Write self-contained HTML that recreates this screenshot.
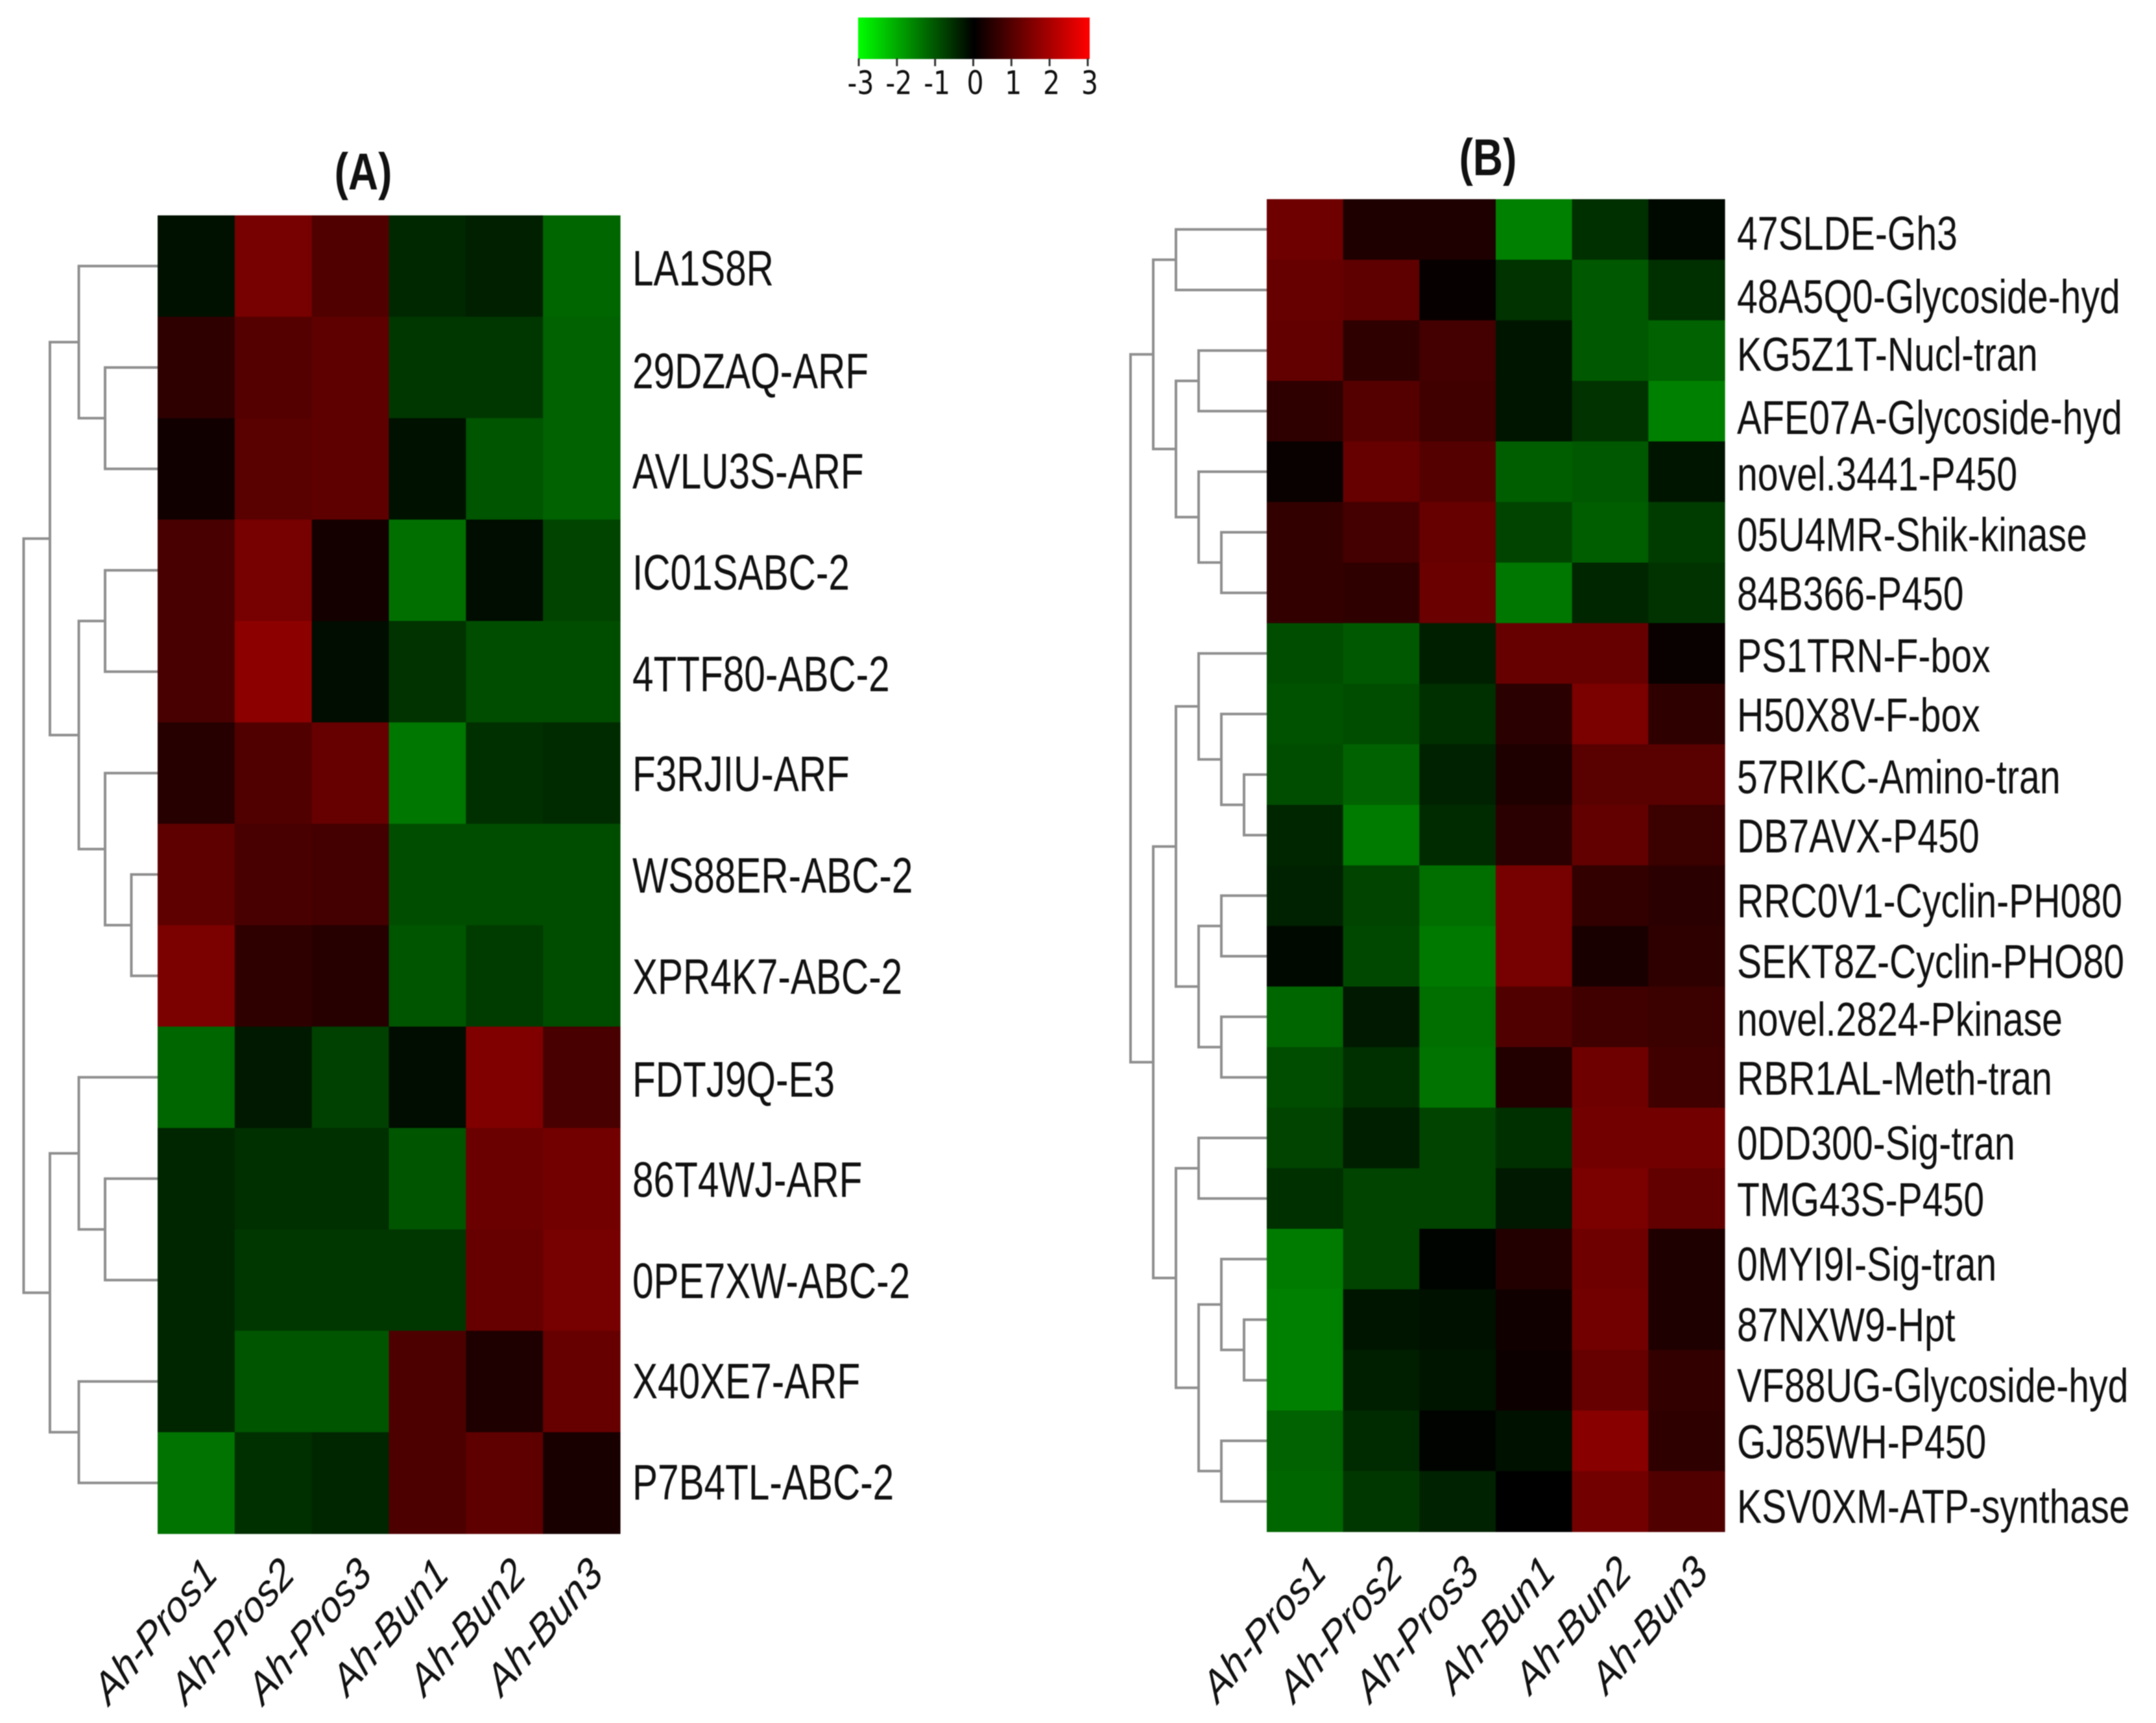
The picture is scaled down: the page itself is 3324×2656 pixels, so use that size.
<!DOCTYPE html>
<html lang="en">
<head>
<meta charset="utf-8">
<title>Expression heatmaps (A) and (B)</title>
<style>
html,body{margin:0;padding:0;background:#fff;}
#chart{display:block;width:3324px;height:2656px;filter:blur(0.9px);}
text{font-family:"Liberation Sans",sans-serif;fill:#111;}
</style>
</head>
<body>
<svg id="chart" xmlns="http://www.w3.org/2000/svg" width="3324" height="2656" viewBox="0 0 3324 2656">
  <defs>
    <linearGradient id="legendGradient" x1="0" x2="1" y1="0" y2="0">
      <stop offset="0" stop-color="#00ff00"/>
      <stop offset="0.5" stop-color="#000000"/>
      <stop offset="1" stop-color="#ff0000"/>
    </linearGradient>
  </defs>
  <rect x="1323" y="27" width="357" height="64" fill="url(#legendGradient)"/>
  <g id="legend-ticks"></g>
  <g id="panelA"></g>
  <g id="panelB"></g>
</svg>
<script>
const sampleLabels = ["Ah-Pros1","Ah-Pros2","Ah-Pros3","Ah-Bun1","Ah-Bun2","Ah-Bun3"];
const legendTicks = [-3,-2,-1,0,1,2,3];

const rowsA = ["LA1S8R","29DZAQ-ARF","AVLU3S-ARF","IC01SABC-2","4TTF80-ABC-2","F3RJIU-ARF","WS88ER-ABC-2","XPR4K7-ABC-2","FDTJ9Q-E3","86T4WJ-ARF","0PE7XW-ABC-2","X40XE7-ARF","P7B4TL-ABC-2"];
const valuesA = [
  [-0.2,1.4,0.95,-0.47,-0.38,-1.2],
  [0.55,1.0,1.1,-0.65,-0.65,-1.15],
  [0.2,1.05,1.1,-0.2,-1.0,-1.15],
  [0.85,1.4,0.25,-1.3,-0.15,-0.8],
  [0.85,1.65,-0.15,-0.6,-0.9,-0.9],
  [0.45,0.95,1.2,-1.4,-0.55,-0.5],
  [1.1,0.85,0.8,-0.9,-0.9,-0.9],
  [1.45,0.55,0.45,-1.0,-0.7,-0.9],
  [-1.2,-0.3,-0.75,-0.15,1.5,0.85],
  [-0.45,-0.55,-0.55,-1.0,1.25,1.35],
  [-0.45,-0.65,-0.65,-0.65,1.2,1.4],
  [-0.45,-1.0,-1.0,0.9,0.35,1.2],
  [-1.35,-0.55,-0.45,0.9,1.1,0.3]
];
const treeA = [5.1,
  [4.1,
    [3,0,[2,1,2]],
    [3,[2,3,4],[2,5,[1,6,7]]]],
  [4.1,
    [3,8,[2,9,10]],
    [3,11,12]]];

const rowsB = ["47SLDE-Gh3","48A5Q0-Glycoside-hyd","KG5Z1T-Nucl-tran","AFE07A-Glycoside-hyd","novel.3441-P450","05U4MR-Shik-kinase","84B366-P450","PS1TRN-F-box","H50X8V-F-box","57RIKC-Amino-tran","DB7AVX-P450","RRC0V1-Cyclin-PH080","SEKT8Z-Cyclin-PHO80","novel.2824-Pkinase","RBR1AL-Meth-tran","0DD300-Sig-tran","TMG43S-P450","0MYI9I-Sig-tran","87NXW9-Hpt","VF88UG-Glycoside-hyd","GJ85WH-P450","KSV0XM-ATP-synthase"];
const valuesB = [
  [1.3,0.35,0.35,-1.5,-0.55,-0.1],
  [1.2,1.1,0.08,-0.6,-1.05,-0.55],
  [1.15,0.55,0.8,-0.25,-1.05,-1.15],
  [0.55,1.0,0.75,-0.25,-0.6,-1.5],
  [0.1,1.2,1.0,-1.1,-1.05,-0.25],
  [0.6,0.8,1.2,-0.8,-1.1,-0.7],
  [0.6,0.55,1.25,-1.4,-0.45,-0.6],
  [-0.9,-1.05,-0.35,1.2,1.2,0.1],
  [-0.95,-0.9,-0.55,0.5,1.45,0.55],
  [-0.9,-1.15,-0.4,0.35,1.05,1.05],
  [-0.45,-1.45,-0.5,0.5,1.15,0.7],
  [-0.4,-0.8,-1.3,1.4,0.6,0.5],
  [-0.1,-0.85,-1.42,1.4,0.3,0.55],
  [-1.2,-0.3,-1.3,0.95,0.75,0.7],
  [-0.9,-0.55,-1.35,0.4,1.3,0.75],
  [-0.8,-0.35,-0.8,-0.55,1.35,1.35],
  [-0.55,-0.8,-0.8,-0.3,1.45,1.15],
  [-1.45,-0.8,-0.05,0.4,1.3,0.35],
  [-1.5,-0.25,-0.2,0.2,1.35,0.35],
  [-1.5,-0.35,-0.25,0.15,1.2,0.6],
  [-1.15,-0.5,-0.03,-0.2,1.6,0.55],
  [-1.2,-0.65,-0.4,0,1.35,0.95]
];
const treeB = [6,
  [5,
    [4,0,1],
    [4,[3,2,3],[3,4,[2,5,6]]]],
  [5,
    [4,
      [3,7,[2,8,[1,9,10]]],
      [3,[2,11,12],[2,13,14]]],
    [4,
      [3,15,16],
      [3,[2,17,[1,18,19]],[2,20,21]]]]];

const NS = "http://www.w3.org/2000/svg";
function make(tag, attrs, parent) {
  const el = document.createElementNS(NS, tag);
  for (const k in attrs) el.setAttribute(k, attrs[k]);
  parent.appendChild(el);
  return el;
}
function valueColor(v) {
  const c = Math.round(Math.min(1, Math.abs(v) / 3) * 255);
  return v >= 0 ? "rgb(" + c + ",0,0)" : "rgb(0," + c + ",0)";
}

function drawPanel(root, cfg) {
  const colW = (cfg.right - cfg.left) / sampleLabels.length;
  const rowH = (cfg.bottom - cfg.top) / cfg.rows.length;
  const xCol = i => cfg.left + i * colW;
  const yRow = i => cfg.top + i * rowH;
  const xHeight = h => cfg.left - h * cfg.treeUnit;

  const title = make("text", {"font-size": 80, "font-weight": "bold", "text-anchor": "middle", transform: "translate(" + cfg.titleX + " " + cfg.titleY + ") scale(0.8 1)"}, root);
  
  
  title.textContent = cfg.title;

  cfg.values.forEach((row, r) => {
    row.forEach((v, c) => {
      const cell = make("rect", {x: xCol(c), y: yRow(r), width: colW + 0.6, height: rowH + 0.6, fill: valueColor(v)}, root);
      
      
    });
  });

  cfg.rows.forEach((label, r) => {
    const y = yRow(r) + rowH / 2 + cfg.baseline + cfg.labelDy[r] * 2.13;
    const t = make("text", {"font-size": cfg.fontSize, transform: "translate(" + cfg.labelX + " " + y + ") scale(" + cfg.labelScale + " 1)"}, root);
    
    
    t.textContent = label;
  });

  sampleLabels.forEach((label, c) => {
    const x = xCol(c) + colW / 2 + 36;
    const y = cfg.bottom + 66;
    const t = make("text", {"font-size": 68, "font-style": "italic", "text-anchor": "end", transform: "translate(" + x + " " + y + ") scale(0.85 1) rotate(-45)"}, root);
    
    
    t.textContent = label;
  });

  function branch(node) {
    if (typeof node === "number") return {x: cfg.left, y: yRow(node) + rowH / 2};
    const a = branch(node[1]);
    const b = branch(node[2]);
    const x = xHeight(node[0]);
    const d = "M" + a.x + " " + a.y + "H" + x + "V" + b.y + "H" + b.x;
    const link = make("path", {d: d, fill: "none", stroke: "#8f8f8f", "stroke-width": 4}, root);
    
    
    return {x: x, y: (a.y + b.y) / 2};
  }
  branch(cfg.tree);
}

drawPanel(document.getElementById("panelA"), {
  title: "(A)", titleX: 560, titleY: 292,
  left: 243, right: 956, top: 332, bottom: 2364,
  rows: rowsA, values: valuesA, tree: treeA, treeUnit: 40.5,
  labelX: 975, labelScale: 0.76, fontSize: 77, baseline: 30,
  labelDy: [0,1,0,0,0,-1,-1,-1,0,-1,-1,-2,-2]
});
drawPanel(document.getElementById("panelB"), {
  title: "(B)", titleX: 2294, titleY: 270,
  left: 1953, right: 2659, top: 307, bottom: 2361,
  rows: rowsB, values: valuesB, tree: treeB, treeUnit: 35,
  labelX: 2678, labelScale: 0.783, fontSize: 73, baseline: 29,
  labelDy: [1,3,1,3,0,0,-1,0,-1,0,-1,2,2,0,-1,2,-1,2,2,2,-1,2]
});

const legendGroup = document.getElementById("legend-ticks");
const legendX = v => 1324 + (v + 3) / 6 * 353;
legendTicks.forEach(v => {
  const x = legendX(v);
  const tick = make("line", {x1: x, x2: x, y1: 90, y2: 102, stroke: "#333", "stroke-width": 3}, legendGroup);
  
  
  const label = make("text", {"font-size": 50, "text-anchor": "middle", style: 'font-family:"DejaVu Sans",sans-serif', transform: "translate(" + (x + 3) + " 145) scale(0.82 1)"}, legendGroup);
  
  
  label.textContent = String(v);
});
</script>
</body>
</html>
